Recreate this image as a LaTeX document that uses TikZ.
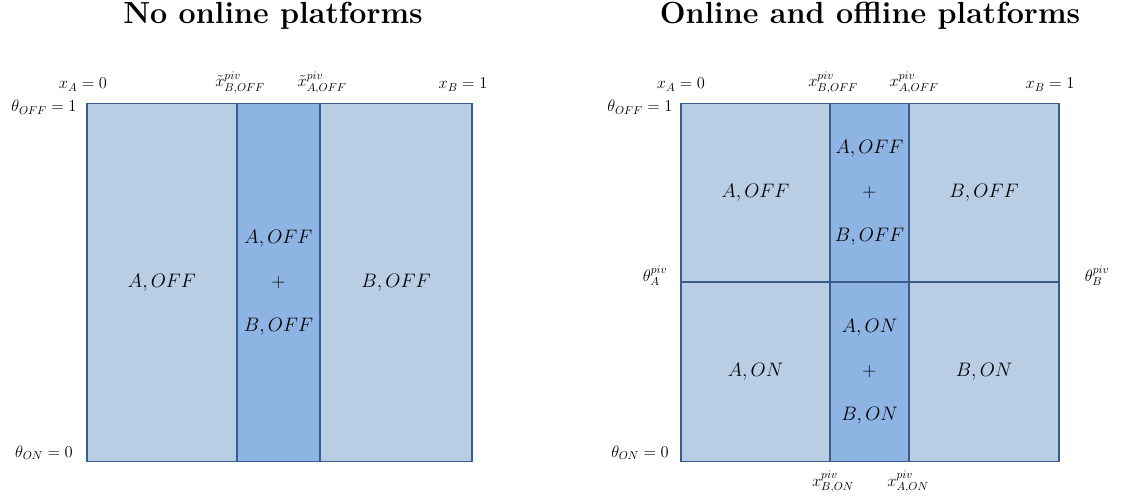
\RequirePackage{fix-cm}
\documentclass[tikz,border=0pt]{standalone}
\usepackage{amsmath}
\definecolor{cellpale}{HTML}{B9CDE5}
\definecolor{cellmid}{HTML}{8EB4E3}
\definecolor{celledge}{RGB}{56,93,138}
\tikzset{
  cell/.style={draw=celledge, line width=1.6pt, fill=cellpale, inner sep=0pt,
    font=\fontsize{19.5}{44}\selectfont, align=center},
  pivot/.style={cell, fill=cellmid},
  tag/.style={font=\fontsize{16.5}{18}\selectfont, inner sep=0pt, anchor=base},
  heading/.style={font=\fontsize{30.5}{36}\selectfont\bfseries, inner sep=0pt, anchor=base},
}
\begin{document}
\begin{tikzpicture}[x=1pt,y=-1pt]
\useasboundingbox (0,0) rectangle (1123,497);

% ---------- left panel: offline platforms only ----------
\node[heading] (titleL) at (273,24) {No online platforms};

\node[cell,  minimum width=150pt, minimum height=358pt] (L1) at (162,282.5)   {$A,OFF$};
\node[cell,  minimum width=152pt, minimum height=358pt] (L3) at (396,282.5)   {$B,OFF$};
\node[pivot, minimum width=83pt,  minimum height=358pt] (L2) at (278.5,282.5) {$A,OFF$\\$+$\\$B,OFF$};

\node[tag] (LxA)   at (83,89)  {$x_A=0$};
\node[tag] (LxBp)  at (240,87) {$\tilde{x}^{piv}_{B,OFF}$};
\node[tag] (LxAp)  at (322,87) {$\tilde{x}^{piv}_{A,OFF}$};
\node[tag] (LxB)   at (463,89) {$x_B=1$};
\node[tag] (LtOff) at (44,112) {$\theta_{OFF}=1$};
\node[tag] (LtOn)  at (44,457) {$\theta_{ON}=0$};

% ---------- right panel: online and offline platforms ----------
\node[heading] (titleR) at (870,24) {Online and offline platforms};

\node[cell,  minimum width=149pt, minimum height=178.5pt] (R1) at (755.5,192.75) {$A,OFF$};
\node[cell,  minimum width=150pt, minimum height=178.5pt] (R3) at (984,192.75)   {$B,OFF$};
\node[cell,  minimum width=149pt, minimum height=179.5pt] (R4) at (755.5,371.75) {$A,ON$};
\node[cell,  minimum width=150pt, minimum height=179.5pt] (R6) at (984,371.75)   {$B,ON$};
\node[pivot, minimum width=79pt,  minimum height=178.5pt] (R2) at (869.5,192.75) {$A,OFF$\\$+$\\$B,OFF$};
\node[pivot, minimum width=79pt,  minimum height=179.5pt] (R5) at (869.5,371.75) {$A,ON$\\$+$\\$B,ON$};

\node[tag] (RxA)   at (681,89)  {$x_A=0$};
\node[tag] (RxBp)  at (833,87)  {$x^{piv}_{B,OFF}$};
\node[tag] (RxAp)  at (914,87)  {$x^{piv}_{A,OFF}$};
\node[tag] (RxB)   at (1050,89) {$x_B=1$};
\node[tag] (RtOff) at (640,112) {$\theta_{OFF}=1$};
\node[tag] (RtOn)  at (640,457) {$\theta_{ON}=0$};
\node[tag] (RtA)   at (655,281) {$\theta^{piv}_A$};
\node[tag] (RtB)   at (1097,281) {$\theta^{piv}_B$};
\node[tag] (RxBon) at (833,486) {$x^{piv}_{B,ON}$};
\node[tag] (RxAon) at (908,486) {$x^{piv}_{A,ON}$};
\end{tikzpicture}
\end{document}
